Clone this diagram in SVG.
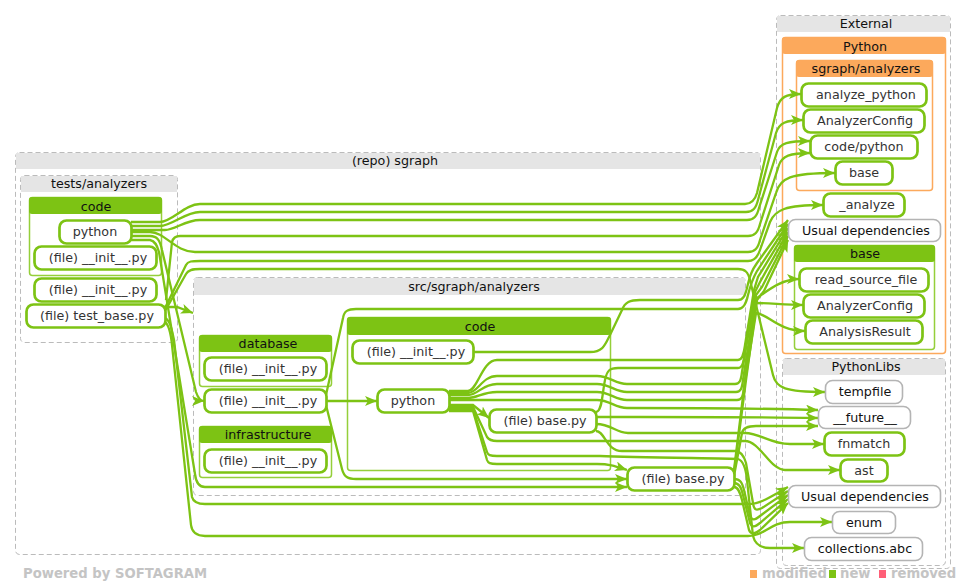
<svg xmlns="http://www.w3.org/2000/svg" width="966" height="587" viewBox="0 0 966 587">
<style>
text{font-family:"DejaVu Sans",sans-serif;font-size:12.7px;text-anchor:middle;fill:#111}
.c{fill:#fff;stroke:#bbb;stroke-width:1;stroke-dasharray:5 3}
.hd{fill:#e5e5e5}
.g{fill:#fff;stroke:#95cf3a;stroke-width:1.5}
.gh{fill:#7dc314}
.o{fill:#fff;stroke:#fca95c;stroke-width:1.5}
.oh{fill:#fca95c}
.n{fill:#fff;stroke:#7dc314;stroke-width:2.7}
.u{fill:#fff;stroke:#b4b4b4;stroke-width:1.6}
.t{fill:#333}
.e{fill:none;stroke:#7dc314;stroke-width:2.3;marker-end:url(#a)}
.x{fill:none;stroke:#7dc314;stroke-width:2.3}
.f{font-weight:bold;font-size:13.2px;fill:#c4c4c4;text-anchor:start}
</style>
<defs><marker id="a" markerUnits="userSpaceOnUse" markerWidth="13" markerHeight="10" refX="12" refY="5" orient="auto"><path d="M0,0 L12,5 L0,10 L3,5z" fill="#7dc314"/></marker></defs>
<rect width="966" height="587" fill="#fff"/>
<g id="clusters">
<rect class="c" x="15.5" y="152.5" width="745" height="402" rx="4"/><rect class="hd" x="16" y="153" width="744" height="16"/><text x="395" y="165">(repo) sgraph</text>
<rect class="c" x="20.5" y="175.5" width="157" height="167" rx="4"/><rect class="hd" x="21" y="176" width="156" height="16"/><text x="99" y="188">tests/analyzers</text>
<rect class="g" x="29.5" y="197.5" width="132" height="78" rx="3"/><rect class="gh" x="29" y="197" width="133" height="17" rx="3"/><text x="96" y="211">code</text>
<rect class="c" x="193.5" y="277.5" width="552" height="218" rx="4"/><rect class="hd" x="194" y="278" width="551" height="17"/><text x="474" y="291">src/sgraph/analyzers</text>
<rect class="g" x="199.5" y="335.5" width="132" height="51" rx="3"/><rect class="gh" x="199" y="335" width="133" height="17" rx="3"/><text x="268" y="348">database</text>
<rect class="g" x="199.5" y="426.5" width="132" height="51" rx="3"/><rect class="gh" x="199" y="426" width="133" height="17" rx="3"/><text x="268" y="439">infrastructure</text>
<rect class="g" x="347.5" y="317.5" width="263" height="153" rx="3"/><rect class="gh" x="347" y="317" width="264" height="18" rx="3"/><text x="480" y="331">code</text>
<rect class="c" x="776.5" y="15.5" width="174" height="553" rx="4"/><rect class="hd" x="777" y="16" width="173" height="16"/><text x="866" y="28">External</text>
<rect class="o" x="782.5" y="37.5" width="163" height="316" rx="3"/><rect class="oh" x="782" y="37" width="164" height="17" rx="3"/><text x="865" y="51">Python</text>
<rect class="o" x="796.5" y="60.5" width="136" height="130" rx="3"/><rect class="oh" x="796" y="60" width="137" height="17" rx="3"/><text x="866" y="73">sgraph/analyzers</text>
<rect class="g" x="794.5" y="245.5" width="140" height="104" rx="3"/><rect class="gh" x="794" y="245" width="141" height="17" rx="3"/><text x="865" y="258">base</text>
<rect class="c" x="782.5" y="358.5" width="163" height="207" rx="4"/><rect class="hd" x="783" y="359" width="162" height="16"/><text x="866" y="371">PythonLibs</text>
</g>
<g id="connectors">
<path class="e" d="M131,222 H160 C172,222 185,204 200,204 H745 C752,204 755,200 757,193 L777,108 C780,97 786,94 801,94"/>
<path class="e" d="M131,226 H160 C172,226 185,212 200,212 H746 C753,212 756,208 758,200 L776,133 C779,123 786,120 803,120"/>
<path class="e" d="M131,230 H165 C175,230 185,220 200,220 H747 C754,220 757,216 759,208 L777,152 C780,143 788,141 810,141"/>
<path class="e" d="M166,300 L172,242 C173,238 175,236 180,236 H748 C755,236 758,232 760,224 L779,165 C782,156 790,153 810,153"/>
<path class="e" d="M131,232 H150 C165,232 175,252 195,252 H748 C755,252 758,248 760,240 L776,193 C780,178 790,173 835,173"/>
<path class="e" d="M165,308 L186,265 C188,261 192,261 200,261 H748 C755,261 758,256 760,250 L770,222 C775,210 785,205 823,205"/>
<path class="e" d="M165,311 L186,274 C188,270 192,269 200,269 H738 C745,269 748,272 750,280 L773,375 C776,388 785,392 825,392"/>
<path class="e" d="M474,352 H590 C603,352 605,345 610,335 L622,310 C625,302 630,300 640,300 H738 C743,300 745,296 747,288 C750,275 752,270 757,263 L788,220"/>
<path class="e" d="M326,395 L343,318 C344,311 348,309 356,309 H738 C743,309 746,305 748,295 C751,283 753,278 757,271 L788,224"/>
<path class="e" d="M449,391 H468 C478,390 482,360 497,360 H738 C743,360 744,352 745,345 L754,290 L758,277 L788,228"/>
<path class="e" d="M596,412 C602,412 602,395 605,380 C607,370 610,368 618,368 H738 C743,368 744,360 745,350 L755,292 L760,282 L788,232"/>
<path class="e" d="M734,470 L745,380 L756,295 L762,287 L788,236"/>
<path class="e" d="M734,473 L746,380 L757,300 L764,291 L788,240"/>
<path class="x" d="M449,393 H468 C478,393 482,376 497,376 H597 C610,376 615,384 627,384 H735 C740,384 741,380 742,372 L754,300"/>
<path class="e" d="M754,300 C765,293 780,279 799,279"/>
<path class="x" d="M449,395 H468 C478,395 482,384 497,384 H597 C610,384 615,392 627,392 H736 C741,392 742,388 743,380 L755,303"/>
<path class="e" d="M755,303 C770,303 785,305 803,305"/>
<path class="x" d="M449,398 H468 C478,398 482,392 497,392 H597 C610,392 615,400 627,400 H737 C742,400 743,396 744,388 L756,313"/>
<path class="e" d="M756,313 C768,314 778,331 805,331"/>
<path class="e" d="M449,400 H597 C610,400 615,408 627,408 C670,408 760,408 818,410"/>
<path class="e" d="M596,417 H640 C700,417 760,417 818,418"/>
<path class="e" d="M734,476 L742,433 C743,428 747,426 756,426 H818"/>
<path class="e" d="M596,424 C612,424 615,433 628,433 H745 C760,433 770,444 790,444 H824"/>
<path class="e" d="M449,405 H473 L489,418"/>
<path class="e" d="M449,407 H473 L487,437 C489,440 492,441 497,441 H745 C760,441 770,470 785,470 H840"/>
<path class="e" d="M596,431 C605,431 606,451 622,451 H735 C741,451 744,456 746,463 L753,503 C754,510 756,511 762,508 L788,491"/>
<path class="x" d="M449,409 H473 L487,452 C488,455 490,456 497,456 H600 C640,458 730,458 738,459 C744,461 746,470 747,480 L753,536"/>
<path class="e" d="M753,536 C755,544 760,548 770,548 H804"/>
<path class="e" d="M449,411 H473 L487,460 C488,463 490,464 497,464 H597 C610,464 615,466 627,470"/>
<path class="e" d="M326,401 H377"/>
<path class="e" d="M326,405 L342,469 C344,477 348,479 356,479 H627"/>
<path class="e" d="M131,236 H150 C157,236 160,240 162,250 L196,392 C198,398 200,401 204,401"/>
<path class="e" d="M163,307 H177 L193,313"/>
<path class="e" d="M131,240 H150 C155,241 157,245 159,252 L195,474 C196,483 199,487 205,487 H627"/>
<path class="x" d="M165,318 C170,320 172,330 174,340 L192,497 C193,501 196,504 205,504 H750"/>
<path class="e" d="M750,504 C760,504 770,497 788,487"/>
<path class="x" d="M165,322 C169,325 171,335 172,345 L191,525 C192,533 197,536 205,536 H748"/>
<path class="e" d="M748,536 C765,536 770,522 790,522 H832"/>
<path class="e" d="M734,479 C740,479 742,482 744,490 L750,516 C752,521 755,520 760,516 L788,495"/>
<path class="e" d="M734,483 C739,483 741,487 743,495 L750,523 C752,528 755,527 760,523 L788,499"/>
<path class="e" d="M734,487 C738,487 740,492 742,500 L749,530 C751,535 755,534 760,530 L788,503"/>
</g>
<g id="n1"><rect class="n" x="59.5" y="220.5" width="72" height="23" rx="7"/><text class="t" x="95" y="236">python</text></g>
<g id="n2"><rect class="n" x="34.5" y="246.5" width="122" height="23" rx="7"/><text class="t" x="98" y="262">(file) __init__.py</text></g>
<g id="n3"><rect class="n" x="34.5" y="278.5" width="122" height="23" rx="7"/><text class="t" x="98" y="294">(file) __init__.py</text></g>
<g id="n4"><rect class="n" x="26.5" y="304.5" width="139" height="23" rx="7"/><text class="t" x="97" y="320">(file) test_base.py</text></g>
<g id="n5"><rect class="n" x="204.5" y="357.5" width="122" height="23" rx="7"/><text class="t" x="268" y="373">(file) __init__.py</text></g>
<g id="n6"><rect class="n" x="204.5" y="389.5" width="122" height="23" rx="7"/><text class="t" x="268" y="405">(file) __init__.py</text></g>
<g id="n7"><rect class="n" x="204.5" y="449.5" width="122" height="23" rx="7"/><text class="t" x="268" y="465">(file) __init__.py</text></g>
<g id="n8"><rect class="n" x="352.5" y="340.5" width="121" height="23" rx="7"/><text class="t" x="416" y="356">(file) __init__.py</text></g>
<g id="n9"><rect class="n" x="377.5" y="389.5" width="72" height="23" rx="7"/><text class="t" x="413" y="405">python</text></g>
<g id="n10"><rect class="n" x="489.5" y="409.5" width="107" height="23" rx="7"/><text class="t" x="545" y="425">(file) base.py</text></g>
<g id="n11"><rect class="n" x="627.5" y="467.5" width="107" height="23" rx="7"/><text class="t" x="683" y="483">(file) base.py</text></g>
<g id="n12"><rect class="n" x="801.5" y="83.5" width="125" height="23" rx="7"/><text class="t" x="866" y="99">analyze_python</text></g>
<g id="n13"><rect class="n" x="803.5" y="109.5" width="121" height="23" rx="7"/><text class="t" x="865" y="125">AnalyzerConfig</text></g>
<g id="n14"><rect class="n" x="810.5" y="135.5" width="107" height="23" rx="7"/><text class="t" x="864" y="151">code/python</text></g>
<g id="n15"><rect class="n" x="835.5" y="161.5" width="57" height="23" rx="7"/><text class="t" x="864" y="177">base</text></g>
<g id="n16"><rect class="n" x="823.5" y="193.5" width="81" height="23" rx="7"/><text class="t" x="867" y="209">_analyze</text></g>
<g id="n17"><rect class="u" x="788.5" y="219.5" width="152" height="22" rx="7"/><text x="866" y="235">Usual dependencies</text></g>
<g id="n18"><rect class="n" x="799.5" y="268.5" width="129" height="23" rx="7"/><text class="t" x="866" y="284">read_source_file</text></g>
<g id="n19"><rect class="n" x="803.5" y="294.5" width="121" height="23" rx="7"/><text class="t" x="865" y="310">AnalyzerConfig</text></g>
<g id="n20"><rect class="n" x="805.5" y="320.5" width="117" height="23" rx="7"/><text class="t" x="865" y="336">AnalysisResult</text></g>
<g id="n21"><rect class="u" x="825.5" y="380.5" width="77" height="23" rx="7"/><text x="865" y="396">tempfile</text></g>
<g id="n22"><rect class="u" x="818.5" y="406.5" width="92" height="22" rx="7"/><text x="865" y="422">__future__</text></g>
<g id="n23"><rect class="n" x="824.5" y="432.5" width="80" height="23" rx="7"/><text class="t" x="864" y="448">fnmatch</text></g>
<g id="n24"><rect class="n" x="840.5" y="459.5" width="47" height="22" rx="7"/><text class="t" x="864" y="475">ast</text></g>
<g id="n25"><rect class="u" x="788.5" y="485.5" width="152" height="22" rx="7"/><text x="865" y="501">Usual dependencies</text></g>
<g id="n26"><rect class="u" x="832.5" y="511.5" width="63" height="22" rx="7"/><text x="864" y="527">enum</text></g>
<g id="n27"><rect class="u" x="804.5" y="537.5" width="118" height="23" rx="7"/><text x="865" y="553">collections.abc</text></g>
<g id="legend">
<text class="f" x="23" y="578">Powered by SOFTAGRAM</text>
<rect x="750" y="570" width="7" height="8" fill="#fca95c"/><text class="f" x="762" y="578">modified</text>
<rect x="829" y="570" width="7" height="8" fill="#7dc314"/><text class="f" x="840" y="578">new</text>
<rect x="879" y="570" width="7" height="8" fill="#ff5f78"/><text class="f" x="891" y="578">removed</text>
</g>
</svg>
